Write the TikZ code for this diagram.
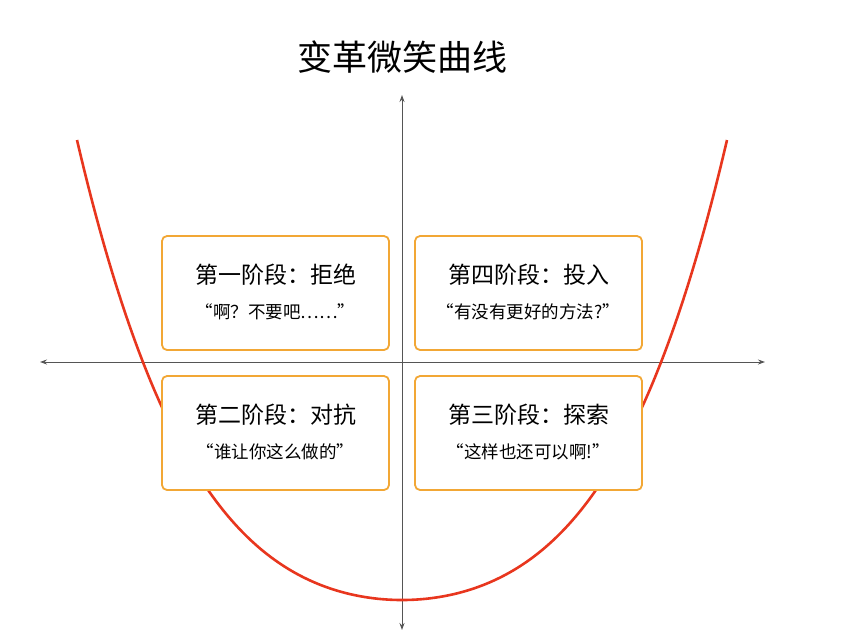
\documentclass[tikz,border=0pt]{standalone}
\usepackage{fontspec}
\setmainfont{Noto Sans CJK SC}
\usetikzlibrary{arrows.meta}
\definecolor{curvered}{HTML}{E8361E}
\definecolor{boxorange}{HTML}{F2A735}
\definecolor{axisgray}{HTML}{555555}
\begin{document}
\begin{tikzpicture}[x=1pt,y=-1pt,
  stage/.style={draw=boxorange,line width=1.8pt,fill=white,rounded corners=5pt,minimum width=227pt,minimum height=114pt},
  axis/.style={draw=axisgray,line width=1pt,{Stealth[length=7pt,width=5pt]}-{Stealth[length=7pt,width=5pt]}}]
\useasboundingbox (0,0) rectangle (846,643);
\node (title) at (402,57) {\fontsize{35pt}{40pt}\selectfont 变革微笑曲线};
\coordinate (xl) at (40,362); \coordinate (xr) at (765,362);
\coordinate (yt) at (402,95); \coordinate (yb) at (402,630);
\draw[axis] (xl) -- (xr);
\draw[axis] (yt) -- (yb);
\draw[curvered,line width=2.6pt] plot[domain=77:727,samples=150,smooth] (\x,{600-460*(0.49*((\x-402)/325)^2+0.51*((\x-402)/325)^4)});
\node[stage] (b1) at (275.5,293) {};
\node[stage] (b2) at (528.5,293) {};
\node[stage] (b3) at (275.5,433) {};
\node[stage] (b4) at (528.5,433) {};
\foreach \b/\t/\q in {b1/第一阶段：拒绝/“啊？不要吧……”, b2/第四阶段：投入/“有没有更好的方法?”, b3/第二阶段：对抗/“谁让你这么做的”, b4/第三阶段：探索/“这样也还可以啊!”}{
  \node (\b t) at ([yshift=18pt]\b.center) {\fontsize{23pt}{26pt}\selectfont \t};
  \node (\b q) at ([yshift=-19pt]\b.center) {\fontsize{17.5pt}{20pt}\selectfont \q};
}
\end{tikzpicture}
\end{document}
